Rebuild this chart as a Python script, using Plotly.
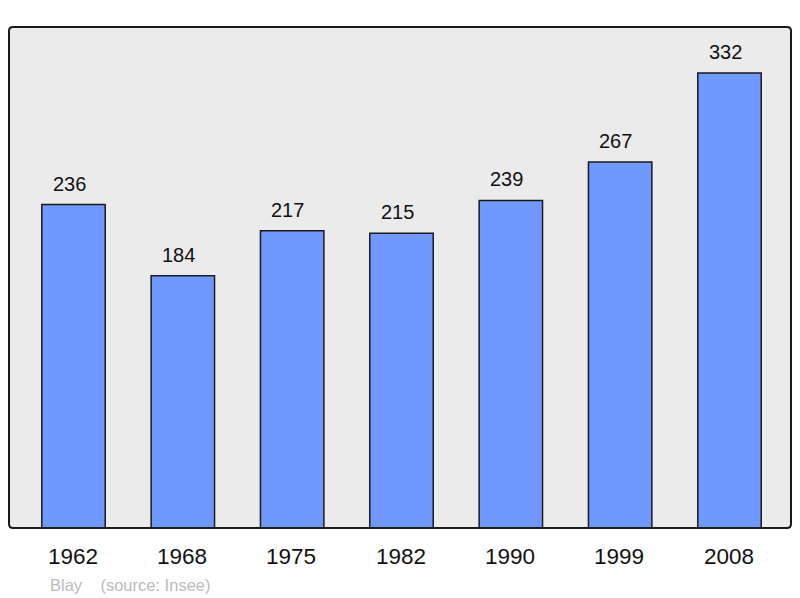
import plotly.graph_objects as go

years = ["1962", "1968", "1975", "1982", "1990", "1999", "2008"]
population = [236, 184, 217, 215, 239, 267, 332]
caption = "Blay    (source: Insee)"

xs = list(range(len(years)))
FONT = "Liberation Sans, Arial, sans-serif"

fig = go.Figure()
fig.add_trace(go.Bar(
    x=xs, y=population, width=0.58,
    marker=dict(color="#7099FF", line=dict(color="#1a1a1a", width=1.5)),
    hoverinfo="skip",
))

for x, v in zip(xs, population):
    fig.add_annotation(x=x, y=v, text=str(v), showarrow=False, yanchor="bottom",
                       xshift=-4.5, yshift=8, font=dict(family=FONT, size=20, color="#111"))
for x, yr in zip(xs, years):
    fig.add_annotation(x=x, y=0, yref="y", text=yr, showarrow=False, yanchor="middle",
                       xshift=-1, yshift=-28, font=dict(family=FONT, size=22.5, color="#111"))

fig.add_annotation(x=0, y=0, xref="paper", yref="paper", xanchor="left", yanchor="middle",
                   xshift=39, yshift=-57, text=caption, showarrow=False,
                   font=dict(family=FONT, size=16.5, color="#BBBBBB"))

# rounded plot-area frame (paper coords; ~4px radius)
W, H = 782.0, 501.0
rx, ry = 4 / W, 4 / H
path = (f"M {rx},0 L {1-rx},0 Q 1,0 1,{ry} L 1,{1-ry} Q 1,1 {1-rx},1 "
        f"L {rx},1 Q 0,1 0,{1-ry} L 0,{ry} Q 0,0 {rx},0 Z")
fig.add_shape(type="path", xref="paper", yref="paper", path=path,
              line=dict(color="#1a1a1a", width=2), layer="above")

# page body has an 8px default margin; compensate
fig.update_layout(
    width=792, height=590,
    margin=dict(l=1, r=9, t=19, b=70),
    paper_bgcolor="white", plot_bgcolor="#EBEBEB",
    showlegend=False,
    xaxis=dict(range=[-0.59, 6.5625], showticklabels=False, showgrid=False, zeroline=False),
    yaxis=dict(range=[0, 365.6], showticklabels=False, showgrid=False, zeroline=False),
)

fig.write_html("out.html")
